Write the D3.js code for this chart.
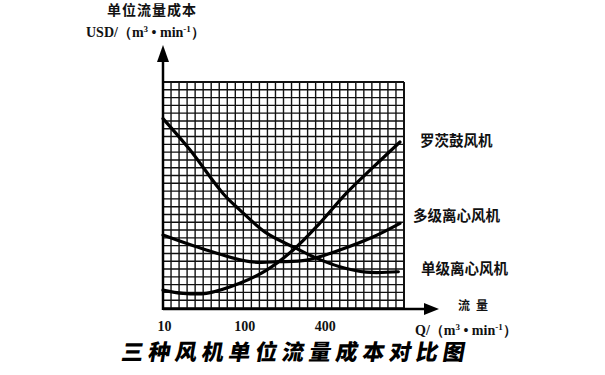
<!DOCTYPE html>
<html><head><meta charset="utf-8">
<script src="https://cdn.jsdelivr.net/npm/d3@7"></script>
<style>body{margin:0;background:#fff}svg{display:block}</style>
</head><body>
<svg id="c" width="605" height="375"></svg>
<script>
// grid units: x 0..30, y 0..29
const gridCols = 30, gridRows = 29;
const tickValues = [0, 10, 20];
const tickLabels = ["10", "100", "400"];
const seriesNames = ["罗茨鼓风机", "多级离心风机", "单级离心风机"];
const rootsX = [0, 2.5, 5.4, 9.55, 12.9, 16.2, 19.5, 22.8, 26.2, 29.5];
const rootsY = [2.3, 1.88, 1.88, 3.17, 4.87, 7.44, 10.86, 14.7, 18.1, 21.3];
const multiX = [0, 5.4, 10.8, 14.5, 17.9, 22.0, 26.2, 29.5];
const multiY = [9.36, 7.44, 5.94, 5.94, 6.15, 7.44, 9.14, 10.86];
const singleX = [0, 3.35, 7.47, 9.55, 12.9, 16.6, 19.1, 22.0, 25.3, 29.3];
const singleY = [24.3, 20.3, 14.7, 12.6, 9.6, 7.65, 6.4, 5.3, 4.6, 4.65];

const svg = d3.select("#c");
const x = d3.scaleLinear().domain([0, gridCols]).range([163, 404]);
const y = d3.scaleLinear().domain([0, gridRows]).range([308, 82]);

// grid
const g = svg.append("g");
g.selectAll("line.v").data(d3.range(0, gridCols + 1)).join("line")
  .attr("x1", d => x(d)).attr("x2", d => x(d)).attr("y1", y(0)).attr("y2", y(gridRows))
  .attr("stroke", "#111").attr("stroke-width", d => d === gridCols ? 2 : 1.4);
g.selectAll("line.h").data(d3.range(0, gridRows + 1)).join("line")
  .attr("x1", x(0)).attr("x2", x(gridCols)).attr("y1", d => y(d)).attr("y2", d => y(d))
  .attr("stroke", "#111").attr("stroke-width", d => d === gridRows ? 2 : 1.4);

// axes lines with arrows
svg.append("line").attr("x1", x(0)).attr("x2", x(0)).attr("y1", y(0) + 2).attr("y2", 58)
  .attr("stroke", "#000").attr("stroke-width", 2.5);
svg.append("path").attr("d", `M${x(0)-6},${62} L${x(0)},${45} L${x(0)+6},${62} Z`).attr("fill", "#000");
svg.append("line").attr("x1", x(0)).attr("x2", 428).attr("y1", y(0) + 1).attr("y2", y(0) + 1)
  .attr("stroke", "#000").attr("stroke-width", 2.5);
svg.append("path").attr("d", `M424,${y(0)+1-6} L439,${y(0)+1} L424,${y(0)+1+6} Z`).attr("fill", "#000");

// x tick labels via d3 axis
const ax = svg.append("g").attr("transform", `translate(0,${y(0) + 10})`)
  .call(d3.axisBottom(x).tickValues(tickValues).tickSize(0).tickFormat((d, i) => tickLabels[i]));
ax.select(".domain").remove();
ax.selectAll("text").attr("font-family", "Liberation Serif").attr("font-size", 14)
  .attr("font-weight", "bold").attr("fill", "#111").attr("dx", 1);

// curves
const line = d3.line().x(d => x(d[0])).y(d => y(d[1])).curve(d3.curveCatmullRom);
const series = [d3.zip(rootsX, rootsY), d3.zip(multiX, multiY), d3.zip(singleX, singleY)];
svg.selectAll("path.s").data(series).join("path")
  .attr("d", line).attr("fill", "none").attr("stroke", "#000").attr("stroke-width", 3.2)
  .attr("stroke-linecap", "round");

// series labels
const labelPos = [[420, 142], [413, 217], [421, 270]];
svg.selectAll("text.lab").data(seriesNames).join("text")
  .attr("x", (d, i) => labelPos[i][0]).attr("y", (d, i) => labelPos[i][1])
  .attr("dominant-baseline", "middle")
  .attr("font-family", "Noto Sans CJK SC").attr("font-size", 14.5).attr("font-weight", "bold")
  .attr("fill", "#111").text(d => d);

// y axis title
svg.append("text").attr("x", 152).attr("y", 15).attr("text-anchor", "middle")
  .attr("font-family", "Noto Sans CJK SC").attr("font-size", 14).attr("font-weight", "bold")
  .attr("letter-spacing", 1).attr("fill", "#111").text("单位流量成本");
const yt = svg.append("text").attr("x", 86).attr("y", 37)
  .attr("font-family", "Liberation Serif").attr("font-size", 14).attr("font-weight", "bold").attr("fill", "#111");
yt.append("tspan").text("USD/（m");
yt.append("tspan").attr("font-size", 9).attr("dy", -5).text("3");
yt.append("tspan").attr("dy", 5).text(" • min");
yt.append("tspan").attr("font-size", 9).attr("dy", -5).text("-1");
yt.append("tspan").attr("dy", 5).text("）");

// x axis title
svg.append("text").attr("x", 458).attr("y", 310)
  .attr("font-family", "Noto Sans CJK SC").attr("font-size", 12).attr("font-weight", "bold")
  .attr("letter-spacing", 6).attr("fill", "#111").text("流量");
const xt = svg.append("text").attr("x", 415).attr("y", 335)
  .attr("font-family", "Liberation Serif").attr("font-size", 14).attr("font-weight", "bold").attr("fill", "#111");
xt.append("tspan").text("Q/（m");
xt.append("tspan").attr("font-size", 9).attr("dy", -5).text("3");
xt.append("tspan").attr("dy", 5).text(" • min");
xt.append("tspan").attr("font-size", 9).attr("dy", -5).text("-1");
xt.append("tspan").attr("dy", 5).text("）");

// chart title
svg.append("text").attr("x", 295).attr("y", 360).attr("text-anchor", "middle")
  .attr("font-family", "Noto Sans CJK SC").attr("font-size", 22).attr("font-weight", "900")
  .attr("letter-spacing", 4.8).attr("fill", "#000")
  .attr("transform", "skewX(-10) translate(63,0)")
  .text("三种风机单位流量成本对比图");
</script>
</body></html>
